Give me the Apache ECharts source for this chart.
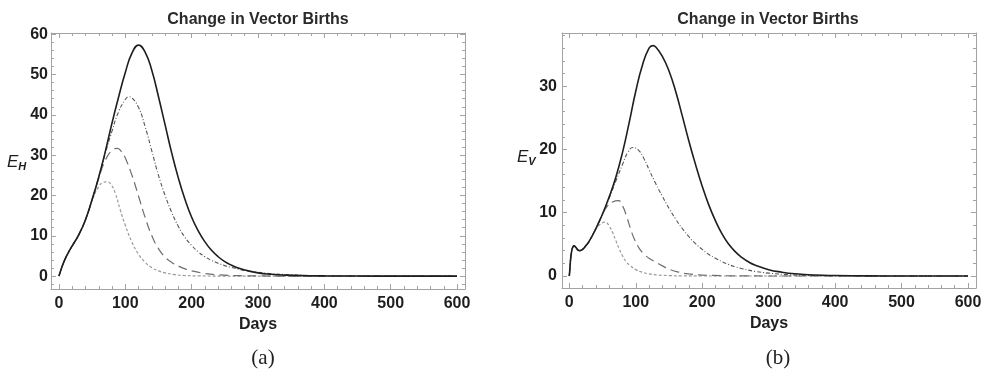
<!DOCTYPE html>
<html>
<head>
<meta charset="utf-8">
<script src="https://cdn.jsdelivr.net/npm/echarts@6/dist/echarts.min.js"></script>
<style>
  html, body { margin: 0; padding: 0; background: #fff; }
  #main { width: 985px; height: 369px; }
</style>
</head>
<body>
<div id="main"></div>
<script>
// (a) E_H, [day, value]
var ehSolid = [[0,0],[5,2.5],[10,4.5],[15,6.1],[20,7.5],[30,10.3],[40,14],[50,19],[60,24.6],[70,31],[80,38],[90,44.5],[100,50.5],[110,55.3],[120,57.3],[130,55.5],[140,51],[150,44.5],[160,37.5],[170,30.5],[180,24.3],[190,19],[200,14.6],[210,11.2],[220,8.5],[230,6.4],[240,4.8],[250,3.6],[260,2.7],[270,2],[280,1.5],[300,0.8],[320,0.45],[340,0.25],[370,0.1],[400,0.05],[450,0.01],[500,0],[600,0]];
var ehDotDash = [[0,0],[5,2.5],[10,4.5],[15,6.1],[20,7.5],[30,10.3],[40,14],[50,19],[60,24.6],[70,30.5],[80,36],[90,40.8],[100,43.8],[105,44.5],[110,44.2],[120,41.8],[130,37],[140,31],[150,25],[160,20],[170,15.8],[180,12.3],[190,9.6],[200,7.6],[210,6],[220,4.8],[230,3.9],[240,3.2],[250,2.6],[260,2.15],[270,1.75],[280,1.4],[300,0.95],[320,0.6],[340,0.4],[370,0.2],[400,0.1],[450,0.03],[500,0],[600,0]];
var ehLongDash = [[0,0],[5,2.5],[10,4.5],[15,6.1],[20,7.5],[30,10.3],[40,14],[50,19],[60,24.3],[70,28.8],[80,31.2],[88,31.7],[95,30.7],[100,29.3],[110,25],[120,19.8],[130,14.5],[140,10],[150,6.8],[160,4.7],[170,3.4],[180,2.5],[190,1.8],[200,1.3],[220,0.65],[240,0.33],[270,0.12],[300,0.04],[350,0],[600,0]];
var ehShortDash = [[0,0],[5,2.5],[10,4.5],[15,6.1],[20,7.5],[30,10.3],[40,14],[50,18.8],[60,22.2],[66,23.2],[72,23.4],[78,22.8],[85,20.5],[92,16.6],[100,12.6],[110,8.4],[120,5.4],[130,3.4],[140,2.1],[150,1.3],[160,0.8],[175,0.35],[190,0.15],[210,0.05],[240,0.01],[270,0],[600,0]];

// (b) E_V, [day, value]
var evSolid = [[0,0],[1,1.3],[2,2.7],[3.5,3.9],[5,4.5],[7,4.75],[10,4.5],[13,4.1],[16,4],[20,4.2],[25,4.8],[30,5.5],[40,7.5],[50,9.8],[60,12.5],[70,15.6],[80,19.5],[90,24.2],[100,29.2],[110,33.3],[120,36],[126,36.4],[130,36.2],[140,34.7],[150,32.4],[160,29.2],[170,25.3],[180,21.3],[190,17.6],[200,14.2],[210,11.2],[220,8.7],[230,6.6],[240,5],[250,3.8],[260,2.9],[270,2.2],[280,1.7],[300,1],[320,0.6],[340,0.35],[370,0.15],[400,0.07],[450,0.02],[500,0],[600,0]];
var evDotDash = [[0,0],[1,1.3],[2,2.7],[3.5,3.9],[5,4.5],[7,4.75],[10,4.5],[13,4.1],[16,4],[20,4.2],[25,4.8],[30,5.5],[40,7.5],[50,9.8],[60,12.3],[70,15],[80,17.6],[88,19.5],[96,20.3],[104,19.9],[112,18.6],[120,16.8],[130,14.6],[140,12.6],[150,10.7],[160,9],[170,7.5],[180,6.2],[190,5.1],[200,4.2],[210,3.4],[220,2.8],[230,2.25],[240,1.8],[250,1.45],[260,1.15],[280,0.72],[300,0.45],[330,0.2],[360,0.09],[400,0.03],[450,0],[600,0]];
var evLongDash = [[0,0],[1,1.3],[2,2.7],[3.5,3.9],[5,4.5],[7,4.75],[10,4.5],[13,4.1],[16,4],[20,4.2],[25,4.8],[30,5.5],[40,7.5],[50,9.8],[57,11],[65,11.7],[74,11.9],[80,11.1],[86,9.5],[92,7.5],[98,5.8],[105,4.4],[112,3.5],[120,2.8],[130,2.2],[140,1.6],[152,1],[165,0.6],[180,0.32],[200,0.15],[230,0.05],[260,0.01],[300,0],[600,0]];
var evShortDash = [[0,0],[1,1.3],[2,2.7],[3.5,3.9],[5,4.5],[7,4.75],[10,4.5],[13,4.1],[16,4],[20,4.2],[25,4.8],[30,5.5],[40,7.4],[47,8.2],[54,8.5],[60,7.9],[65,6.9],[70,5.6],[75,4.3],[80,3.2],[86,2.2],[92,1.6],[100,1],[110,0.6],[120,0.33],[135,0.15],[150,0.06],[170,0.02],[200,0],[600,0]];

// tick labels
var dayTicks = [0, 100, 200, 300, 400, 500, 600];
var ehTicks = [0, 10, 20, 30, 40, 50, 60];
var evTicks = [0, 10, 20, 30];

var frameColor = '#a3a3a3';
var font = 'Liberation Sans, Arial, sans-serif';

// minor ticks between the major ones
function minorTicks(step, lo, hi, major) {
  var out = [];
  for (var v = Math.ceil(lo / step) * step; v <= hi; v += step) {
    var r = Math.round(v * 100) / 100;
    if (major.indexOf(r) < 0) out.push(r);
  }
  return out;
}

function axesFor(dim, gi, min, max, major, minor, labelMargin) {
  var sides = dim === 'x' ? ['bottom', 'top'] : ['left', 'right'];
  var list = [];
  sides.forEach(function (side, si) {
    [major, minor].forEach(function (vals, k) {
      var a = {
        gridIndex: gi,
        type: 'value',
        min: min,
        max: max,
        position: side,
        splitLine: { show: false },
        axisLine: { show: k === 0, onZero: false, lineStyle: { color: frameColor, width: 1 } },
        axisTick: { show: true, inside: true, length: k === 0 ? 5 : 3, customValues: vals,
                    lineStyle: { color: frameColor, width: 1 } },
        axisLabel: { show: false },
        silent: true
      };
      if (si === 0 && k === 0) {
        a.axisLabel = { show: true, customValues: vals, margin: labelMargin,
                        color: '#1e1e1e', fontSize: 16, fontWeight: 'bold', fontFamily: font };
      }
      list.push(a);
    });
  });
  return list;
}

function line(data, gi, color, width, dash) {
  return {
    type: 'line',
    data: data,
    xAxisIndex: gi * 4,
    yAxisIndex: gi * 4,
    showSymbol: false,
    smooth: 0.5,
    silent: true,
    lineStyle: { color: color, width: width, type: dash }
  };
}

var xAxes = [].concat(
  axesFor('x', 0, -12, 612, dayTicks, minorTicks(20, -12, 612, dayTicks), 7),
  axesFor('x', 1, -11, 612, dayTicks, minorTicks(20, -11, 612, dayTicks), 7)
);
xAxes[0].name = 'Days';
xAxes[4].name = 'Days';
[0, 4].forEach(function (i) {
  xAxes[i].nameLocation = 'middle';
  xAxes[i].nameGap = 26;
  xAxes[i].nameTextStyle = { color: '#1e1e1e', fontSize: 16, fontWeight: 'bold', fontFamily: font, verticalAlign: 'top' };
});

var yAxes = [].concat(
  axesFor('y', 0, -3.2, 60.3, ehTicks, minorTicks(2, -3.2, 60.3, ehTicks), 3),
  axesFor('y', 1, -1.9, 38.4, evTicks, minorTicks(2, -1.9, 38.4, evTicks), 5)
);

var chart = echarts.init(document.getElementById('main'), null, { renderer: 'canvas' });

var option = {
  animation: false,
  backgroundColor: '#fff',
  grid: [
    { left: 51, top: 33, width: 414, height: 256, containLabel: false, outerBoundsMode: 'none' },
    { left: 562, top: 33, width: 414, height: 255, containLabel: false, outerBoundsMode: 'none' }
  ],
  xAxis: xAxes,
  yAxis: yAxes,
  graphic: [
    { type: 'text', x: 258, y: 20, style: { text: 'Change in Vector Births', font: 'bold 16px ' + font, fill: '#2a2a2a',
      textAlign: 'center', textVerticalAlign: 'middle', align: 'center', verticalAlign: 'middle' } },
    { type: 'text', x: 768, y: 20, style: { text: 'Change in Vector Births', font: 'bold 16px ' + font, fill: '#2a2a2a',
      textAlign: 'center', textVerticalAlign: 'middle', align: 'center', verticalAlign: 'middle' } },
    { type: 'text', x: 7, y: 153, style: { text: '{e|E}{s|H}', rich: {
      e: { fontSize: 17, fontStyle: 'italic', fontFamily: font, fill: '#1e1e1e', color: '#1e1e1e' },
      s: { fontSize: 11, fontStyle: 'italic', fontWeight: 'bold', fontFamily: font, fill: '#1e1e1e', color: '#1e1e1e', padding: [8, 0, 0, 0] } } } },
    { type: 'text', x: 517, y: 148, style: { text: '{e|E}{s|V}', rich: {
      e: { fontSize: 17, fontStyle: 'italic', fontFamily: font, fill: '#1e1e1e', color: '#1e1e1e' },
      s: { fontSize: 11, fontStyle: 'italic', fontWeight: 'bold', fontFamily: font, fill: '#1e1e1e', color: '#1e1e1e', padding: [8, 0, 0, 0] } } } },
    { type: 'text', x: 263, y: 358, style: { text: '(a)', font: '21px Liberation Serif, serif', fill: '#222',
      textAlign: 'center', textVerticalAlign: 'middle', align: 'center', verticalAlign: 'middle' } },
    { type: 'text', x: 778, y: 358, style: { text: '(b)', font: '21px Liberation Serif, serif', fill: '#222',
      textAlign: 'center', textVerticalAlign: 'middle', align: 'center', verticalAlign: 'middle' } }
  ],
  series: [
    line(ehShortDash, 0, '#9a9a9a', 1.2, [3, 2]),
    line(ehLongDash, 0, '#6e6e6e', 1.2, [9, 5]),
    line(ehDotDash, 0, '#555', 1.1, [4, 2, 1, 2]),
    line(ehSolid, 0, '#1e1e1e', 1.6, 'solid'),
    line(evShortDash, 1, '#9a9a9a', 1.2, [3, 2]),
    line(evLongDash, 1, '#6e6e6e', 1.2, [9, 5]),
    line(evDotDash, 1, '#555', 1.1, [4, 2, 1, 2]),
    line(evSolid, 1, '#1e1e1e', 1.6, 'solid')
  ]
};

chart.setOption(option);
</script>
</body>
</html>
